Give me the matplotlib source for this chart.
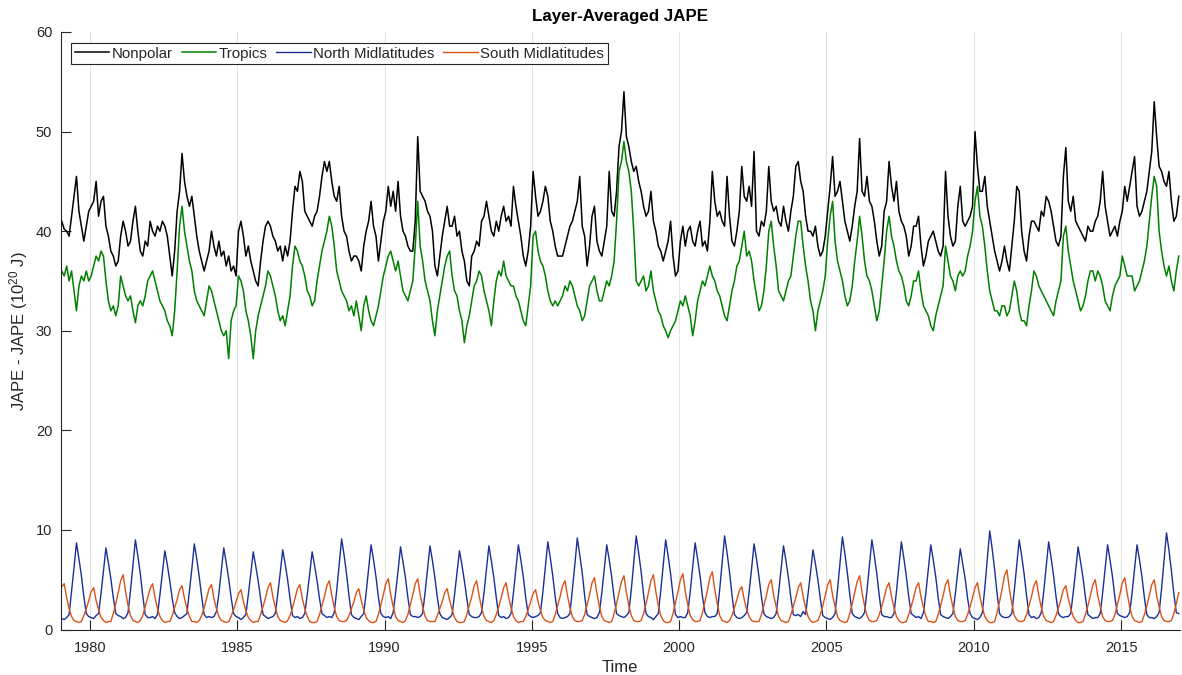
'''Layer-averaged JAPE for the nonpolar, tropical and midlatitude bands, 1979-2016'''
import numpy as np
import matplotlib
matplotlib.use('Agg')
import matplotlib.pyplot as plt

plt.rcParams['font.family'] = ['Liberation Sans', 'DejaVu Sans']
plt.rcParams['mathtext.default'] = 'regular'

FIRST_YEAR = 1979
LAST_YEAR = 2016

# monthly values, one row per year (Jan..Dec), units of 10^20 J
nonpolar = [
    41.0, 40.2, 40.0, 39.5, 41.5, 43.5, 45.5, 42.0, 40.5, 39.0, 40.5, 42.0,  # 1979
    42.5, 43.0, 45.0, 41.5, 43.0, 43.5, 40.5, 39.5, 38.0, 37.5, 36.5, 37.0,  # 1980
    39.5, 41.0, 40.0, 38.5, 39.0, 41.0, 42.5, 40.0, 38.0, 37.5, 39.0, 38.5,  # 1981
    41.0, 40.0, 39.5, 40.5, 40.0, 41.0, 40.5, 39.5, 37.5, 35.5, 38.0, 42.0,  # 1982
    44.0, 47.8, 45.0, 43.5, 42.5, 43.5, 41.5, 39.5, 38.0, 37.0, 36.0, 37.0,  # 1983
    38.0, 40.0, 38.5, 37.5, 39.0, 37.5, 38.0, 36.5, 37.5, 36.0, 36.5, 35.5,  # 1984
    40.0, 41.0, 39.5, 37.5, 38.5, 37.0, 36.0, 35.0, 34.5, 37.0, 39.0, 40.5,  # 1985
    41.0, 40.5, 39.5, 39.0, 38.0, 38.5, 37.0, 38.5, 37.5, 39.0, 42.0, 44.5,  # 1986
    44.0, 46.0, 45.0, 42.0, 41.5, 41.0, 40.5, 41.5, 42.0, 43.5, 45.5, 47.0,  # 1987
    46.0, 47.0, 45.0, 43.5, 43.0, 44.5, 41.5, 40.0, 39.5, 38.0, 37.0, 37.5,  # 1988
    37.5, 37.0, 36.0, 38.5, 40.0, 41.0, 43.0, 40.5, 39.5, 37.0, 39.0, 41.0,  # 1989
    42.0, 44.5, 42.5, 44.0, 42.0, 45.0, 41.5, 40.0, 39.5, 38.5, 38.0, 38.0,  # 1990
    41.0, 49.5, 44.0, 43.5, 43.0, 42.0, 41.5, 40.0, 36.5, 35.5, 37.5, 39.5,  # 1991
    41.0, 42.5, 40.5, 40.5, 41.5, 39.5, 40.0, 38.0, 37.0, 35.0, 34.5, 37.5,  # 1992
    38.0, 39.0, 38.5, 41.0, 41.5, 43.0, 41.5, 40.0, 39.5, 41.0, 40.0, 41.5,  # 1993
    42.5, 41.0, 41.5, 40.5, 44.5, 42.5, 41.0, 39.5, 37.5, 36.5, 38.0, 40.5,  # 1994
    46.0, 43.5, 41.5, 42.0, 43.0, 44.5, 43.5, 41.0, 40.0, 38.5, 37.5, 37.5,  # 1995
    37.5, 38.5, 39.5, 40.5, 41.0, 42.0, 43.0, 45.5, 40.5, 39.5, 36.5, 38.5,  # 1996
    41.5, 42.5, 39.0, 38.0, 37.5, 39.0, 40.5, 46.0, 42.0, 41.5, 44.0, 48.5,  # 1997
    50.0, 54.0, 49.5, 48.5, 47.0, 46.0, 46.5, 45.0, 44.0, 42.5, 41.5, 42.0,  # 1998
    44.0, 41.0, 40.0, 38.5, 38.0, 37.0, 38.0, 39.0, 41.0, 37.5, 35.5, 36.0,  # 1999
    39.0, 40.5, 38.5, 40.0, 40.5, 39.0, 38.5, 40.0, 41.0, 38.5, 39.0, 38.0,  # 2000
    41.0, 46.0, 43.0, 41.5, 42.0, 41.0, 40.5, 45.5, 41.5, 39.0, 38.5, 40.0,  # 2001
    42.0, 46.5, 43.5, 43.0, 44.5, 42.5, 48.0, 40.0, 39.5, 41.0, 40.5, 42.0,  # 2002
    46.5, 43.0, 42.0, 42.5, 41.0, 40.5, 42.5, 41.0, 40.0, 42.0, 43.5, 46.5,  # 2003
    47.0, 45.0, 44.0, 41.5, 40.0, 40.0, 39.5, 40.5, 38.5, 37.5, 38.0, 39.5,  # 2004
    42.0, 44.5, 47.5, 43.5, 44.0, 45.0, 43.0, 41.0, 40.0, 39.0, 40.5, 42.5,  # 2005
    44.0, 49.3, 44.0, 43.5, 45.5, 43.0, 42.5, 41.0, 39.0, 37.5, 38.5, 42.0,  # 2006
    43.0, 47.0, 44.5, 43.0, 45.0, 42.0, 41.0, 40.5, 39.5, 37.5, 38.5, 40.5,  # 2007
    40.5, 41.5, 38.5, 36.5, 37.5, 39.0, 39.5, 40.0, 39.0, 38.0, 37.5, 38.5,  # 2008
    46.0, 41.5, 39.5, 38.5, 39.0, 42.5, 44.5, 41.0, 40.5, 41.0, 41.5, 42.5,  # 2009
    50.0, 46.5, 44.0, 44.0, 45.5, 42.5, 41.0, 39.5, 38.0, 37.0, 36.0, 37.0,  # 2010
    38.5, 37.0, 36.0, 38.5, 41.0, 44.5, 44.0, 40.0, 38.0, 37.0, 39.5, 41.0,  # 2011
    41.0, 40.5, 40.0, 42.0, 41.5, 43.5, 43.0, 42.0, 40.5, 39.0, 38.5, 39.5,  # 2012
    45.5, 48.4, 43.0, 42.0, 43.5, 41.0, 40.5, 40.0, 39.5, 39.0, 40.5, 40.0,  # 2013
    40.0, 41.0, 41.5, 43.0, 46.0, 42.5, 41.0, 39.5, 40.0, 40.5, 39.5, 41.0,  # 2014
    42.0, 44.5, 43.0, 44.5, 46.0, 47.5, 42.5, 41.5, 42.0, 43.0, 44.0, 46.0,  # 2015
    48.0, 53.0, 49.5, 46.5, 46.0, 45.0, 44.5, 46.0, 43.0, 41.0, 41.5, 43.5,  # 2016
]

tropics = [
    36.0, 35.5, 36.5, 35.0, 36.0, 34.0, 32.0, 34.5, 35.5, 35.0, 36.0, 35.0,  # 1979
    35.5, 36.5, 37.5, 37.0, 38.0, 37.5, 35.0, 33.0, 32.0, 32.5, 31.5, 32.5,  # 1980
    35.5, 34.5, 33.5, 33.0, 33.5, 32.0, 30.8, 32.5, 33.0, 32.5, 33.5, 35.0,  # 1981
    35.5, 36.0, 35.0, 34.0, 33.0, 32.5, 32.0, 31.0, 30.5, 29.5, 32.0, 36.0,  # 1982
    40.5, 42.5, 40.0, 38.5, 37.0, 36.0, 34.0, 33.0, 32.5, 32.0, 31.5, 33.0,  # 1983
    34.5, 34.0, 33.0, 32.0, 31.0, 30.0, 29.5, 30.0, 27.2, 31.0, 32.0, 32.5,  # 1984
    35.5, 35.0, 34.0, 32.0, 31.0, 29.5, 27.2, 30.0, 31.5, 32.5, 33.5, 34.5,  # 1985
    36.0, 35.5, 34.5, 33.5, 32.0, 31.0, 31.5, 30.5, 32.0, 33.5, 36.5, 38.5,  # 1986
    38.0, 37.0, 36.5, 35.5, 34.0, 33.5, 32.5, 33.0, 35.0, 36.5, 38.0, 39.0,  # 1987
    40.0, 41.5, 40.5, 38.5, 36.0, 35.0, 34.0, 33.5, 33.0, 32.0, 32.5, 31.5,  # 1988
    33.0, 31.5, 30.0, 32.5, 33.5, 32.0, 31.0, 30.5, 31.5, 32.5, 34.0, 35.5,  # 1989
    36.5, 37.5, 38.0, 37.0, 36.0, 37.0, 35.5, 34.0, 33.5, 33.0, 34.0, 35.0,  # 1990
    38.5, 43.0, 38.5, 37.0, 35.0, 34.0, 33.0, 31.0, 29.5, 32.0, 33.5, 35.0,  # 1991
    36.5, 37.5, 38.0, 35.5, 34.0, 33.5, 32.0, 31.0, 28.8, 30.5, 31.5, 33.0,  # 1992
    34.5, 35.0, 36.0, 35.5, 34.0, 33.0, 32.0, 30.5, 33.0, 35.0, 36.0, 35.5,  # 1993
    37.0, 35.5, 35.0, 34.5, 34.5, 33.5, 33.0, 32.0, 31.0, 30.5, 32.5, 34.5,  # 1994
    39.5, 40.0, 38.0, 37.0, 36.5, 35.5, 34.0, 33.0, 32.5, 33.0, 32.5, 33.0,  # 1995
    33.5, 34.5, 34.0, 35.0, 34.5, 33.5, 32.5, 32.0, 31.0, 31.5, 33.0, 34.5,  # 1996
    35.0, 35.5, 34.0, 33.0, 33.0, 34.0, 35.0, 34.5, 35.5, 37.0, 41.0, 46.0,  # 1997
    47.0, 49.0, 47.0, 46.0, 44.0, 40.0, 35.0, 34.5, 35.0, 35.5, 34.0, 34.5,  # 1998
    36.0, 34.0, 33.0, 32.0, 31.5, 30.5, 30.0, 29.3, 30.0, 30.5, 31.0, 32.0,  # 1999
    33.0, 32.5, 33.5, 32.5, 31.5, 29.5, 31.0, 33.0, 34.0, 35.0, 34.5, 35.5,  # 2000
    36.5, 35.5, 35.0, 34.0, 33.5, 32.5, 31.5, 31.0, 32.5, 34.0, 35.0, 36.5,  # 2001
    37.0, 38.5, 40.0, 37.5, 38.0, 37.0, 35.0, 33.5, 32.0, 32.5, 34.0, 36.5,  # 2002
    40.0, 41.0, 38.5, 36.5, 34.0, 33.5, 33.0, 34.0, 35.0, 35.5, 37.5, 39.5,  # 2003
    41.0, 41.0, 38.5, 36.5, 35.0, 33.0, 32.0, 30.0, 32.0, 33.0, 34.0, 35.5,  # 2004
    39.0, 41.5, 43.0, 39.0, 37.0, 36.0, 35.0, 33.5, 32.5, 33.0, 34.5, 37.0,  # 2005
    39.0, 41.5, 39.5, 37.0, 35.5, 35.0, 34.0, 32.5, 31.0, 32.0, 34.5, 37.0,  # 2006
    40.0, 41.5, 39.5, 38.5, 37.0, 36.0, 35.5, 34.5, 33.0, 32.5, 33.5, 35.0,  # 2007
    35.0, 36.0, 34.0, 32.5, 32.0, 31.5, 30.5, 30.0, 31.5, 32.5, 33.5, 34.5,  # 2008
    38.5, 37.0, 35.5, 35.0, 34.0, 35.5, 36.0, 35.5, 36.0, 37.5, 38.5, 40.0,  # 2009
    43.0, 44.5, 41.5, 40.5, 38.5, 36.0, 34.0, 33.0, 32.0, 32.0, 31.5, 32.5,  # 2010
    32.5, 31.5, 32.0, 33.5, 35.0, 34.0, 32.0, 31.0, 31.0, 30.5, 32.5, 34.0,  # 2011
    36.0, 35.5, 34.5, 34.0, 33.5, 33.0, 32.5, 32.0, 31.5, 33.0, 34.0, 35.0,  # 2012
    39.5, 40.5, 38.0, 36.5, 35.0, 34.0, 33.0, 32.0, 32.5, 33.5, 35.0, 36.0,  # 2013
    36.0, 35.0, 36.0, 35.5, 34.5, 33.0, 32.5, 32.0, 33.5, 34.5, 35.0, 35.5,  # 2014
    37.5, 36.5, 35.5, 35.5, 35.5, 34.0, 34.5, 35.0, 36.0, 37.0, 38.5, 41.0,  # 2015
    43.5, 45.5, 44.5, 40.0, 38.0, 36.5, 35.5, 36.5, 35.0, 34.0, 36.0, 37.5,  # 2016
]

north_mid = [
    1.1, 1.0, 1.2, 1.5, 3.8, 6.2, 8.7, 7.1, 5.4, 3.3, 1.6, 1.3,  # 1979
    1.2, 1.1, 1.4, 1.6, 3.6, 5.9, 8.2, 6.7, 5.1, 3.2, 1.6, 1.4,  # 1980
    1.3, 1.1, 1.2, 1.7, 3.9, 6.4, 9.0, 7.4, 5.6, 3.4, 1.5, 1.2,  # 1981
    1.2, 1.3, 1.1, 1.5, 3.5, 5.7, 7.9, 6.5, 4.9, 3.1, 1.7, 1.3,  # 1982
    1.1, 1.2, 1.4, 1.6, 3.8, 6.1, 8.6, 7.1, 5.3, 3.3, 1.5, 1.2,  # 1983
    1.3, 1.2, 1.3, 1.8, 3.6, 5.9, 8.2, 6.7, 5.1, 3.2, 1.6, 1.3,  # 1984
    1.2, 1.0, 1.2, 1.5, 3.5, 5.6, 7.8, 6.4, 4.9, 3.1, 1.5, 1.3,  # 1985
    1.1, 1.2, 1.3, 1.6, 3.6, 5.7, 8.0, 6.6, 5.0, 3.1, 1.4, 1.2,  # 1986
    1.3, 1.1, 1.2, 1.6, 3.5, 5.6, 7.8, 6.4, 4.9, 3.1, 1.6, 1.4,  # 1987
    1.2, 1.3, 1.2, 1.7, 3.9, 6.5, 9.1, 7.5, 5.6, 3.4, 1.5, 1.2,  # 1988
    1.1, 1.0, 1.3, 1.6, 3.7, 6.1, 8.5, 7.0, 5.3, 3.2, 1.6, 1.3,  # 1989
    1.2, 1.3, 1.1, 1.7, 3.7, 5.9, 8.3, 6.8, 5.2, 3.2, 1.5, 1.3,  # 1990
    1.3, 1.2, 1.3, 1.6, 3.7, 6.0, 8.4, 6.9, 5.2, 3.2, 1.6, 1.2,  # 1991
    1.1, 1.0, 1.2, 1.5, 3.5, 5.7, 7.9, 6.5, 4.9, 3.1, 1.5, 1.3,  # 1992
    1.2, 1.2, 1.3, 1.7, 3.7, 6.0, 8.4, 6.9, 5.2, 3.2, 1.4, 1.2,  # 1993
    1.3, 1.1, 1.2, 1.6, 3.7, 6.1, 8.5, 7.0, 5.3, 3.2, 1.5, 1.3,  # 1994
    1.2, 1.3, 1.4, 1.7, 3.8, 6.3, 8.8, 7.2, 5.4, 3.3, 1.6, 1.2,  # 1995
    1.1, 1.2, 1.3, 1.6, 4.0, 6.5, 9.2, 7.5, 5.7, 3.4, 1.5, 1.3,  # 1996
    1.2, 1.1, 1.2, 1.7, 3.7, 6.1, 8.5, 7.0, 5.3, 3.2, 1.6, 1.4,  # 1997
    1.3, 1.2, 1.4, 1.7, 4.0, 6.7, 9.4, 7.7, 5.8, 3.5, 1.6, 1.3,  # 1998
    1.2, 1.0, 1.3, 1.6, 3.9, 6.4, 9.0, 7.4, 5.6, 3.4, 1.5, 1.2,  # 1999
    1.3, 1.2, 1.2, 1.7, 3.8, 6.2, 8.7, 7.1, 5.4, 3.3, 1.7, 1.3,  # 2000
    1.2, 1.3, 1.3, 1.6, 4.0, 6.7, 9.4, 7.7, 5.8, 3.5, 1.5, 1.2,  # 2001
    1.1, 1.2, 1.4, 1.7, 3.8, 6.1, 8.6, 7.1, 5.3, 3.3, 1.6, 1.3,  # 2002
    1.2, 1.1, 1.2, 1.6, 3.7, 6.0, 8.4, 6.9, 5.2, 3.2, 1.5, 1.4,  # 2003
    1.5, 1.3, 1.8, 1.5, 3.6, 5.7, 8.0, 6.6, 5.0, 3.1, 1.4, 1.2,  # 2004
    1.1, 1.0, 1.2, 1.6, 4.0, 6.6, 9.3, 7.6, 5.7, 3.5, 1.6, 1.3,  # 2005
    1.2, 1.1, 1.3, 1.7, 3.9, 6.4, 9.0, 7.4, 5.6, 3.4, 1.5, 1.3,  # 2006
    1.3, 1.2, 1.2, 1.6, 3.8, 6.3, 8.8, 7.2, 5.4, 3.3, 1.6, 1.4,  # 2007
    1.2, 1.3, 1.1, 1.7, 3.7, 6.1, 8.5, 7.0, 5.3, 3.2, 1.5, 1.3,  # 2008
    1.2, 1.1, 1.3, 1.6, 3.6, 5.8, 8.1, 6.6, 5.1, 3.1, 1.6, 1.2,  # 2009
    1.1, 1.0, 1.2, 1.7, 4.2, 7.0, 9.9, 8.1, 6.0, 3.6, 1.6, 1.3,  # 2010
    1.2, 1.2, 1.3, 1.6, 3.9, 6.4, 9.0, 7.4, 5.6, 3.4, 1.5, 1.2,  # 2011
    1.3, 1.1, 1.2, 1.7, 3.8, 6.3, 8.8, 7.2, 5.4, 3.3, 1.6, 1.3,  # 2012
    1.2, 1.3, 1.3, 1.6, 3.7, 5.9, 8.3, 6.8, 5.2, 3.2, 1.5, 1.3,  # 2013
    1.1, 1.2, 1.2, 1.6, 3.7, 6.1, 8.5, 7.0, 5.3, 3.2, 1.6, 1.4,  # 2014
    1.3, 1.2, 1.3, 1.7, 3.7, 6.1, 8.5, 7.0, 5.3, 3.2, 1.5, 1.2,  # 2015
    1.2, 1.1, 1.3, 1.7, 4.1, 6.9, 9.7, 8.0, 5.9, 3.6, 1.7, 1.6,  # 2016
]

south_mid = [
    4.3, 4.6, 3.2, 2.1, 1.3, 0.9, 0.8, 0.7, 0.8, 1.4, 2.1, 2.9,  # 1979
    3.8, 4.2, 2.9, 2.0, 1.2, 0.9, 0.7, 0.8, 0.8, 1.6, 2.6, 3.7,  # 1980
    4.9, 5.5, 3.8, 2.4, 1.4, 0.9, 0.8, 0.7, 0.9, 1.4, 2.3, 3.2,  # 1981
    4.1, 4.6, 3.2, 2.1, 1.3, 0.9, 0.7, 0.8, 0.8, 1.4, 2.2, 3.0,  # 1982
    4.0, 4.4, 3.1, 2.1, 1.3, 0.8, 0.8, 0.7, 0.9, 1.4, 2.2, 3.1,  # 1983
    4.1, 4.5, 3.1, 2.1, 1.3, 0.9, 0.8, 0.7, 0.8, 1.3, 2.0, 2.8,  # 1984
    3.6, 4.0, 2.8, 1.9, 1.2, 0.9, 0.7, 0.8, 0.8, 1.5, 2.3, 3.2,  # 1985
    4.2, 4.7, 3.3, 2.2, 1.3, 0.9, 0.8, 0.7, 0.9, 1.4, 2.2, 3.1,  # 1986
    4.1, 4.5, 3.1, 2.1, 1.3, 0.8, 0.7, 0.7, 0.8, 1.5, 2.4, 3.3,  # 1987
    4.4, 4.9, 3.4, 2.2, 1.3, 0.9, 0.8, 0.8, 0.9, 1.4, 2.1, 2.8,  # 1988
    3.7, 4.1, 2.9, 2.0, 1.2, 0.9, 0.7, 0.7, 0.8, 1.5, 2.5, 3.5,  # 1989
    4.6, 5.1, 3.5, 2.3, 1.3, 0.9, 0.8, 0.7, 0.9, 1.5, 2.5, 3.5,  # 1990
    4.6, 5.1, 3.5, 2.3, 1.3, 0.9, 0.8, 0.8, 0.8, 1.4, 2.1, 2.8,  # 1991
    3.7, 4.1, 2.9, 2.0, 1.2, 0.8, 0.7, 0.7, 0.8, 1.5, 2.4, 3.3,  # 1992
    4.4, 4.9, 3.4, 2.2, 1.3, 0.9, 0.8, 0.7, 0.9, 1.5, 2.3, 3.2,  # 1993
    4.2, 4.7, 3.3, 2.2, 1.3, 0.9, 0.7, 0.8, 0.8, 1.3, 2.0, 2.8,  # 1994
    3.6, 4.0, 2.8, 1.9, 1.2, 0.9, 0.8, 0.7, 0.8, 1.5, 2.4, 3.3,  # 1995
    4.4, 4.9, 3.4, 2.2, 1.3, 0.9, 0.8, 0.8, 0.9, 1.5, 2.5, 3.5,  # 1996
    4.7, 5.2, 3.6, 2.3, 1.3, 0.9, 0.8, 0.7, 0.8, 1.6, 2.6, 3.7,  # 1997
    4.8, 5.4, 3.7, 2.4, 1.4, 0.9, 0.8, 0.8, 0.9, 1.6, 2.6, 3.7,  # 1998
    4.9, 5.5, 3.8, 2.4, 1.4, 0.9, 0.7, 0.7, 0.8, 1.6, 2.7, 3.8,  # 1999
    5.0, 5.6, 3.8, 2.5, 1.4, 1.0, 0.8, 0.8, 0.9, 1.7, 2.8, 3.9,  # 2000
    5.2, 5.8, 4.0, 2.6, 1.4, 0.9, 0.8, 0.7, 0.9, 1.4, 2.2, 3.0,  # 2001
    3.9, 4.3, 3.0, 2.0, 1.3, 0.9, 0.8, 0.8, 0.8, 1.5, 2.4, 3.4,  # 2002
    4.5, 5.0, 3.4, 2.3, 1.3, 0.9, 0.8, 0.7, 0.8, 1.5, 2.3, 3.2,  # 2003
    4.2, 4.7, 3.3, 2.2, 1.3, 0.9, 0.7, 0.8, 0.9, 1.5, 2.4, 3.4,  # 2004
    4.5, 5.0, 3.4, 2.3, 1.3, 0.9, 0.8, 0.7, 0.8, 1.6, 2.6, 3.7,  # 2005
    4.8, 5.4, 3.7, 2.4, 1.4, 0.9, 0.8, 0.8, 0.9, 1.5, 2.3, 3.2,  # 2006
    4.2, 4.7, 3.3, 2.2, 1.3, 0.9, 0.7, 0.7, 0.8, 1.5, 2.3, 3.2,  # 2007
    4.2, 4.7, 3.3, 2.2, 1.3, 0.8, 0.8, 0.7, 0.8, 1.5, 2.4, 3.4,  # 2008
    4.5, 5.0, 3.4, 2.3, 1.3, 0.9, 0.8, 0.8, 0.9, 1.5, 2.3, 3.2,  # 2009
    4.2, 4.7, 3.3, 2.2, 1.3, 0.9, 0.7, 0.7, 0.8, 1.7, 2.8, 4.0,  # 2010
    5.4, 6.0, 4.1, 2.6, 1.4, 1.0, 0.8, 0.8, 0.9, 1.5, 2.4, 3.3,  # 2011
    4.4, 4.9, 3.4, 2.2, 1.3, 0.9, 0.8, 0.7, 0.8, 1.4, 2.2, 3.0,  # 2012
    4.0, 4.4, 3.1, 2.1, 1.3, 0.9, 0.7, 0.7, 0.8, 1.5, 2.4, 3.4,  # 2013
    4.5, 5.0, 3.4, 2.3, 1.3, 0.9, 0.8, 0.8, 0.9, 1.5, 2.5, 3.5,  # 2014
    4.7, 5.2, 3.6, 2.3, 1.3, 0.9, 0.8, 0.7, 0.8, 1.5, 2.4, 3.4,  # 2015
    4.5, 5.0, 3.4, 2.3, 1.3, 0.9, 0.8, 0.8, 0.9, 1.6, 2.6, 3.7,  # 2016
]

series_names = ['Nonpolar', 'Tropics', 'North Midlatitudes', 'South Midlatitudes']
series_colors = ['#000000', '#008000', '#1b2f94', '#d95319']
year_ticks = [1980, 1985, 1990, 1995, 2000, 2005, 2010, 2015]
value_ticks = [0, 10, 20, 30, 40, 50, 60]

TEXT = '#262626'


def month_centres(n_months):
    '''Decimal-year position of the middle of each month'''
    return FIRST_YEAR + (np.arange(n_months) + 0.5) / 12.0


def plot_jape():
    '''Line chart of the four layer-averaged JAPE series'''
    fig = plt.figure(figsize=(11.82, 6.75), dpi=100)
    ax = fig.add_axes([0.0512, 0.0674, 0.9471, 0.8852])

    all_series = [nonpolar, tropics, north_mid, south_mid]
    widths = [1.1, 1.1, 1.0, 1.0]
    for values, name, colour, lw in zip(all_series, series_names,
                                        series_colors, widths):
        x = month_centres(len(values))
        ax.plot(x, values, color=colour, linewidth=lw, label=name)

    ax.set_xlim(FIRST_YEAR, LAST_YEAR + 1)
    ax.set_ylim(0, 60)
    ax.set_xticks(year_ticks)
    ax.set_yticks(value_ticks)
    ax.grid(axis='x', color='#e3e3e3', linewidth=0.8)
    ax.set_axisbelow(True)

    for side in ['top', 'right']:
        ax.spines[side].set_visible(False)
    for side in ['left', 'bottom']:
        ax.spines[side].set_color(TEXT)
        ax.spines[side].set_linewidth(0.8)
    ax.tick_params(direction='in', length=7, width=0.8, colors=TEXT,
                   labelsize=10.5)
    ax.tick_params(axis='x', pad=8)
    ax.tick_params(axis='y', pad=6)

    ax.set_title('Layer-Averaged JAPE', fontsize=12.2, fontweight='bold',
                 color='#000000', pad=8)
    ax.set_xlabel('Time', fontsize=12, color=TEXT, labelpad=4)
    ax.set_ylabel('JAPE - JAPE (10$^{20}$ J)', fontsize=12, color=TEXT,
                  labelpad=4)

    leg = ax.legend(loc='upper left', bbox_to_anchor=(0.0094, 0.982),
                    borderaxespad=0, ncol=4, fontsize=10.8, frameon=True,
                    fancybox=False, handlelength=2.3, handletextpad=0.15,
                    columnspacing=0.6, borderpad=0.25)
    leg.get_frame().set_edgecolor(TEXT)
    leg.get_frame().set_linewidth(0.8)
    leg.get_frame().set_alpha(1)
    for text in leg.get_texts():
        text.set_color(TEXT)

    fig.savefig('out.png', dpi=100)


plot_jape()
